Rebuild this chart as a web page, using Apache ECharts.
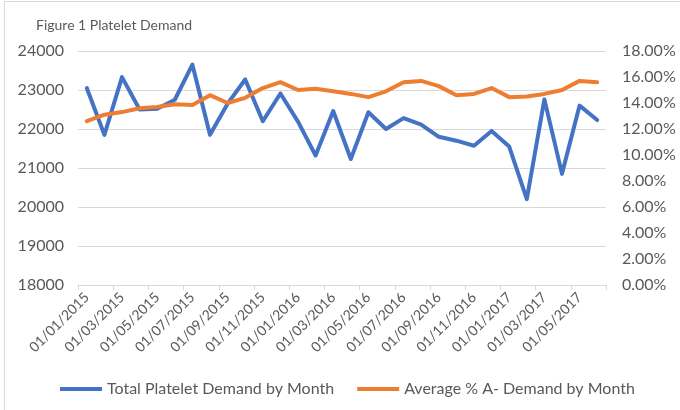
<!DOCTYPE html>
<html>
<head>
<meta charset="utf-8">
<script src="https://cdn.jsdelivr.net/npm/echarts@6/dist/echarts.min.js"></script>
<style>
  body { margin: 0; background: #fff; }
  #frame { position: absolute; left: 4px; top: 1px; width: 676px; height: 409px; border-left: 1px solid #d9d9d9; border-top: 1px solid #d9d9d9; box-sizing: border-box; }
  #chart { position: absolute; left: 0; top: 0; width: 680px; height: 410px; }
</style>
</head>
<body>
<div id="frame"></div>
<div id="chart"></div>
<script>
// monthly categories
const months = [
  '01/01/2015', '01/02/2015', '01/03/2015', '01/04/2015', '01/05/2015', '01/06/2015',
  '01/07/2015', '01/08/2015', '01/09/2015', '01/10/2015', '01/11/2015', '01/12/2015',
  '01/01/2016', '01/02/2016', '01/03/2016', '01/04/2016', '01/05/2016', '01/06/2016',
  '01/07/2016', '01/08/2016', '01/09/2016', '01/10/2016', '01/11/2016', '01/12/2016',
  '01/01/2017', '01/02/2017', '01/03/2017', '01/04/2017', '01/05/2017', '01/06/2017'
]
const totalDemand = [
  23050, 21850, 23330, 22500, 22520, 22750, 23650, 21850, 22650, 23270,
  22200, 22910, 22190, 21320, 22460, 21230, 22430, 22000, 22280, 22110,
  21800, 21700, 21570, 21950, 21550, 20200, 22760, 20850, 22600, 22230
]
const avgANeg = [
  12.6, 13.1, 13.3, 13.6, 13.7, 13.9, 13.85, 14.6, 14.0, 14.4,
  15.15, 15.6, 15.0, 15.1, 14.9, 14.7, 14.45, 14.9, 15.6, 15.7,
  15.3, 14.6, 14.7, 15.15, 14.45, 14.5, 14.7, 15.0, 15.7, 15.6
]
const seriesNames = ['Total Platelet Demand by Month', 'Average % A- Demand by Month']

const textColor = '#595959'
const gridColor = '#d9d9d9'
const font = 'Lato'

const chart = echarts.init(document.getElementById('chart'))
chart.setOption({
  animation: false,
  title: {
    text: 'Figure 1 Platelet Demand',
    left: 31,
    top: 13,
    textStyle: { color: textColor, fontSize: 14, fontWeight: 'normal', fontFamily: font }
  },
  grid: { left: 78, right: 74, top: 51, bottom: 125, containLabel: false },
  legend: {
    bottom: 8,
    left: 55,
    itemWidth: 42,
    itemHeight: 4,
    itemGap: 23,
    icon: 'rect',
    textStyle: { color: textColor, fontSize: 16, fontFamily: font },
    data: seriesNames
  },
  xAxis: {
    type: 'category',
    data: months,
    boundaryGap: true,
    axisLine: { show: true, lineStyle: { color: gridColor } },
    axisTick: { show: true, interval: 1, length: 5, lineStyle: { color: gridColor } },
    axisLabel: {
      interval: 1,
      rotate: 45,
      margin: 10,
      color: textColor,
      fontSize: 14,
      fontFamily: font
    }
  },
  yAxis: [
    {
      type: 'value',
      min: 18000,
      max: 24000,
      interval: 1000,
      axisLine: { show: false },
      axisTick: { show: false },
      splitLine: { lineStyle: { color: gridColor, width: 1 } },
      axisLabel: { color: textColor, fontSize: 16, fontFamily: font, margin: 14, formatter: v => String(v) }
    },
    {
      type: 'value',
      min: 0,
      max: 18,
      interval: 2,
      axisLine: { show: false },
      axisTick: { show: false },
      splitLine: { show: false },
      axisLabel: {
        color: textColor,
        fontSize: 16,
        fontFamily: font,
        margin: 16,
        formatter: v => v.toFixed(2) + '%'
      }
    }
  ],
  series: [
    {
      name: seriesNames[0],
      type: 'line',
      yAxisIndex: 0,
      data: totalDemand,
      symbol: 'none',
      itemStyle: { color: '#4472C4' },
      lineStyle: { color: '#4472C4', width: 4, join: 'round', cap: 'round' }
    },
    {
      name: seriesNames[1],
      type: 'line',
      yAxisIndex: 1,
      data: avgANeg,
      symbol: 'none',
      itemStyle: { color: '#ED7D31' },
      lineStyle: { color: '#ED7D31', width: 4, join: 'round', cap: 'round' }
    }
  ]
})
</script>
</body>
</html>
